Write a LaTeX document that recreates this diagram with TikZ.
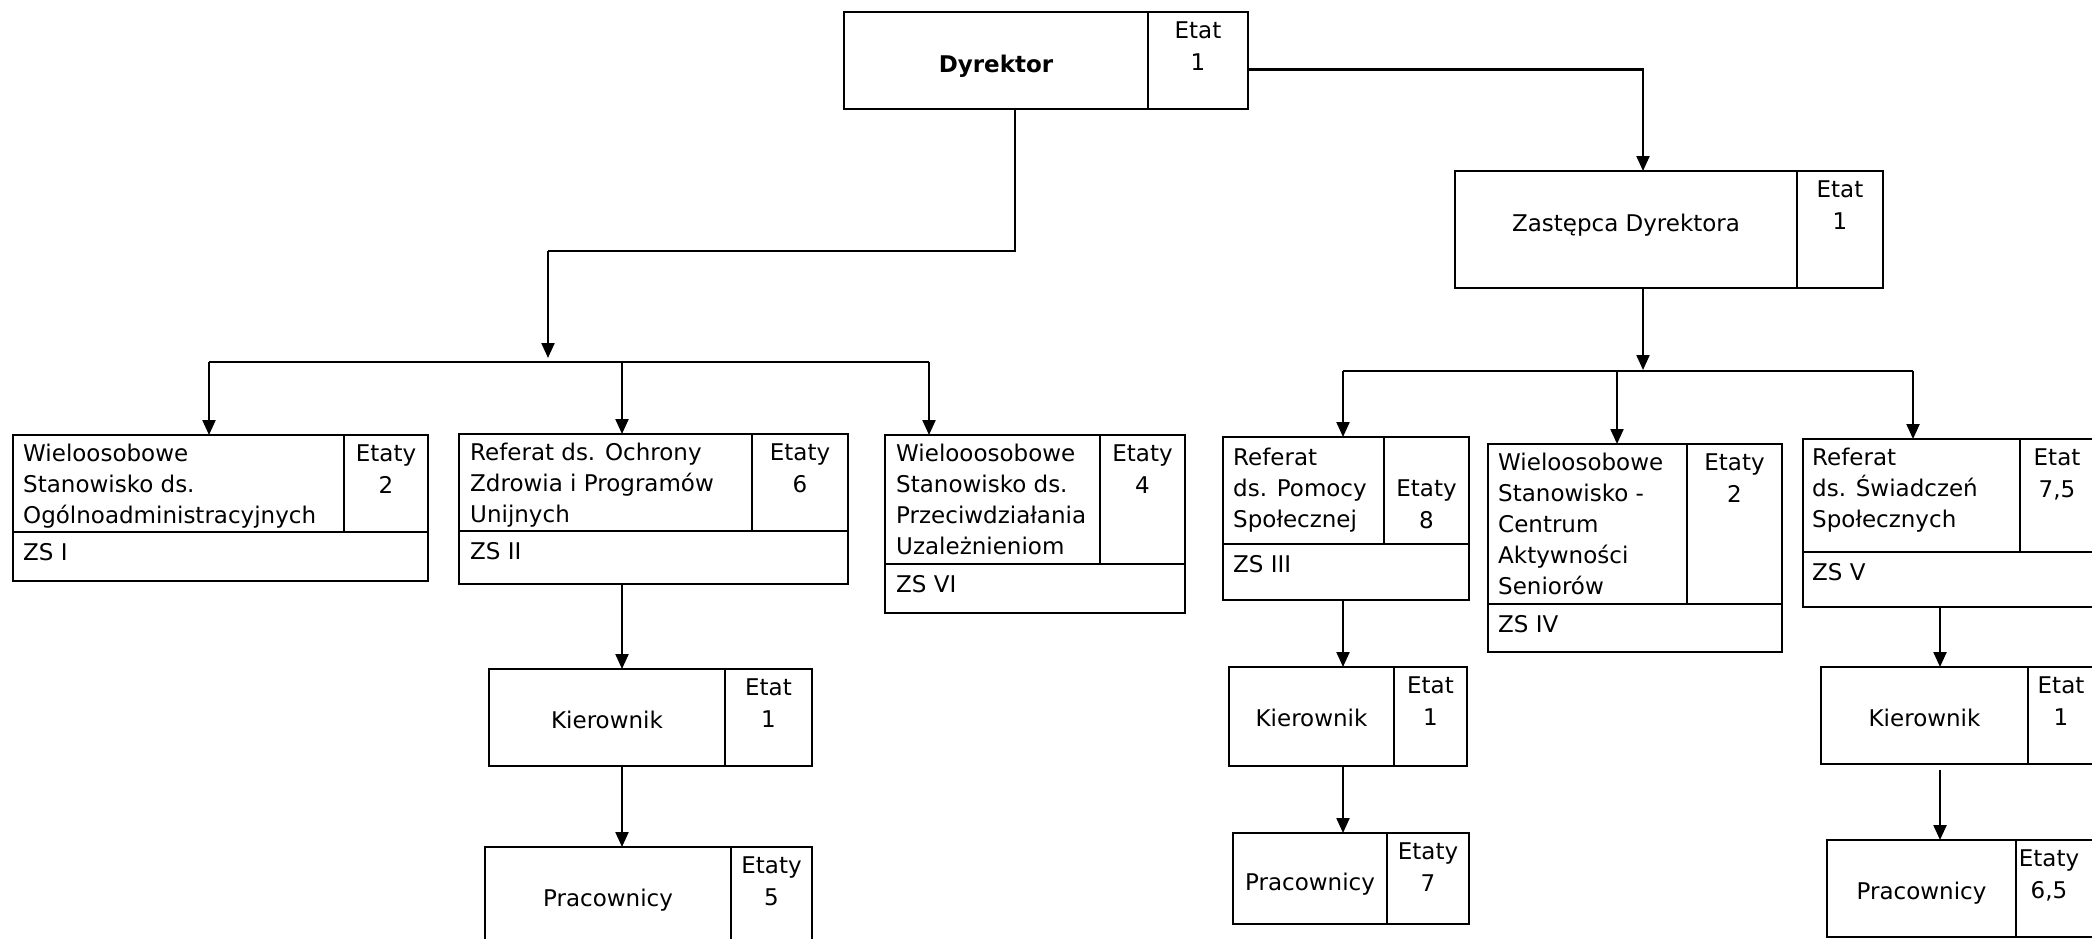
\documentclass[tikz,border=0pt]{standalone}
\usepackage{fontspec}
\setmainfont{DejaVu Sans}
\usepackage{tikz}
\usetikzlibrary{arrows.meta}

\begin{document}
\begin{tikzpicture}[x=1pt,y=-1pt,
  cell/.style={draw, line width=2.2pt, rectangle, inner sep=0pt, outer sep=0pt, anchor=north west},
  txt/.style={anchor=north west, align=left, inner sep=0pt, font=\fontsize{23}{31}\selectfont},
  etat/.style={anchor=north, align=center, inner sep=0pt, font=\fontsize{23}{32}\selectfont},
  nazwa/.style={anchor=base, inner sep=0pt, font=\fontsize{23}{31}\selectfont},
  conn/.style={line width=2.2pt},
  arr/.style={line width=2.2pt, -{Triangle[length=15pt,width=13pt]}}]

  \useasboundingbox (0,0) rectangle (2092,938);

  % Dyrektor
  \node[cell, minimum width=304pt, minimum height=97pt] (dyr) at (844,12) {};
  \node[cell, minimum width=100pt, minimum height=97pt] (dyrE) at (dyr.north east) {};
  \node[nazwa] (dyrT) at ([yshift=-60pt]dyr.north) {\bfseries Dyrektor};
  \node[etat] (dyrN) at ([yshift=-10pt]dyrE.north) {Etat\\1};

  \node[cell, minimum width=342pt, minimum height=117pt] (zast) at (1455,171) {};
  \node[cell, minimum width=86pt, minimum height=117pt] (zastE) at (zast.north east) {};
  \node[nazwa] (zastT) at ([yshift=-60pt]zast.north) {Zastępca Dyrektora};
  \node[etat] (zastN) at ([yshift=-10pt]zastE.north) {Etat\\1};

  % ZS I
  \node[cell, minimum width=331pt, minimum height=97pt] (zs1) at (13,435) {};
  \node[cell, minimum width=84pt, minimum height=97pt] (zs1E) at (zs1.north east) {};
  \node[cell, minimum width=415pt, minimum height=49pt] (zs1D) at (zs1.south west) {};
  \node[txt] (zs1T) at ([xshift=10pt,yshift=-9pt]zs1.north west) {Wieloosobowe\\Stanowisko ds.\\Ogólnoadministracyjnych};
  \node[etat] (zs1N) at ([yshift=-10pt]zs1E.north) {Etaty\\2};
  \node[txt] (zs1Z) at ([xshift=10pt,yshift=-11pt]zs1D.north west) {ZS I};

  % ZS II
  \node[cell, minimum width=293pt, minimum height=97pt] (zs2) at (459,434) {};
  \node[cell, minimum width=96pt, minimum height=97pt] (zs2E) at (zs2.north east) {};
  \node[cell, minimum width=389pt, minimum height=53pt] (zs2D) at (zs2.south west) {};
  \node[txt] (zs2T) at ([xshift=11pt,yshift=-9pt]zs2.north west) {Referat ds. Ochrony\\Zdrowia i Programów\\Unijnych};
  \node[etat] (zs2N) at ([yshift=-10pt]zs2E.north) {Etaty\\6};
  \node[txt] (zs2Z) at ([xshift=11pt,yshift=-11pt]zs2D.north west) {ZS II};

  % ZS VI
  \node[cell, minimum width=215pt, minimum height=129pt] (zs6) at (885,435) {};
  \node[cell, minimum width=85pt, minimum height=129pt] (zs6E) at (zs6.north east) {};
  \node[cell, minimum width=300pt, minimum height=49pt] (zs6D) at (zs6.south west) {};
  \node[txt] (zs6T) at ([xshift=11pt,yshift=-9pt]zs6.north west) {Wielooosobowe\\Stanowisko ds.\\Przeciwdziałania\\Uzależnieniom};
  \node[etat] (zs6N) at ([yshift=-10pt]zs6E.north) {Etaty\\4};
  \node[txt] (zs6Z) at ([xshift=11pt,yshift=-11pt]zs6D.north west) {ZS VI};

  % ZS III
  \node[cell, minimum width=161pt, minimum height=107pt] (zs3) at (1223,437) {};
  \node[cell, minimum width=85pt, minimum height=107pt] (zs3E) at (zs3.north east) {};
  \node[cell, minimum width=246pt, minimum height=56pt] (zs3D) at (zs3.south west) {};
  \node[txt] (zs3T) at ([xshift=10pt,yshift=-11pt]zs3.north west) {Referat\\ds. Pomocy\\Społecznej};
  \node[etat] (zs3N) at ([yshift=-43pt]zs3E.north) {Etaty\\8};
  \node[txt] (zs3Z) at ([xshift=10pt,yshift=-11pt]zs3D.north west) {ZS III};

  % ZS IV
  \node[cell, minimum width=199pt, minimum height=160pt] (zs4) at (1488,444) {};
  \node[cell, minimum width=95pt, minimum height=160pt] (zs4E) at (zs4.north east) {};
  \node[cell, minimum width=294pt, minimum height=48pt] (zs4D) at (zs4.south west) {};
  \node[txt] (zs4T) at ([xshift=10pt,yshift=-9pt]zs4.north west) {Wieloosobowe\\Stanowisko -\\Centrum\\Aktywności\\Seniorów};
  \node[etat] (zs4N) at ([yshift=-10pt]zs4E.north) {Etaty\\2};
  \node[txt] (zs4Z) at ([xshift=10pt,yshift=-11pt]zs4D.north west) {ZS IV};

  % ZS V
  \node[cell, minimum width=217pt, minimum height=113pt] (zs5) at (1803,439) {};
  \node[cell, minimum width=74pt, minimum height=113pt] (zs5E) at (zs5.north east) {};
  \node[cell, minimum width=291pt, minimum height=55pt] (zs5D) at (zs5.south west) {};
  \node[txt] (zs5T) at ([xshift=9pt,yshift=-9pt]zs5.north west) {Referat\\ds. Świadczeń\\Społecznych};
  \node[etat] (zs5N) at ([yshift=-10pt]zs5E.north) {Etat\\7,5};
  \node[txt] (zs5Z) at ([xshift=9pt,yshift=-11pt]zs5D.north west) {ZS V};

  % Kierownik, Pracownicy
  \node[cell, minimum width=236pt, minimum height=97pt] (k2) at (489,669) {};
  \node[cell, minimum width=87pt, minimum height=97pt] (k2E) at (k2.north east) {};
  \node[nazwa] (k2T) at ([yshift=-59pt]k2.north) {Kierownik};
  \node[etat] (k2N) at ([yshift=-10pt]k2E.north) {Etat\\1};

  \node[cell, minimum width=246pt, minimum height=97pt] (p2) at (485,847) {};
  \node[cell, minimum width=81pt, minimum height=97pt] (p2E) at (p2.north east) {};
  \node[nazwa] (p2T) at ([yshift=-59pt]p2.north) {Pracownicy};
  \node[etat] (p2N) at ([yshift=-10pt]p2E.north) {Etaty\\5};

  \node[cell, minimum width=165pt, minimum height=99pt] (k3) at (1229,667) {};
  \node[cell, minimum width=73pt, minimum height=99pt] (k3E) at (k3.north east) {};
  \node[nazwa] (k3T) at ([yshift=-59pt]k3.north) {Kierownik};
  \node[etat] (k3N) at ([yshift=-10pt]k3E.north) {Etat\\1};

  \node[cell, minimum width=154pt, minimum height=91pt] (p3) at (1233,833) {};
  \node[cell, minimum width=82pt, minimum height=91pt] (p3E) at (p3.north east) {};
  \node[nazwa] (p3T) at ([yshift=-57pt]p3.north) {Pracownicy};
  \node[etat] (p3N) at ([yshift=-10pt]p3E.north) {Etaty\\7};

  \node[cell, minimum width=207pt, minimum height=97pt] (k5) at (1821,667) {};
  \node[cell, minimum width=66pt, minimum height=97pt] (k5E) at (k5.north east) {};
  \node[nazwa] (k5T) at ([yshift=-59pt]k5.north) {Kierownik};
  \node[etat] (k5N) at ([yshift=-10pt]k5E.north) {Etat\\1};

  \node[cell, minimum width=189pt, minimum height=97pt] (p5) at (1827,840) {};
  \node[cell, minimum width=78pt, minimum height=97pt] (p5E) at (p5.north east) {};
  \node[nazwa] (p5T) at ([yshift=-59pt]p5.north) {Pracownicy};
  \node[etat] (p5N) at ([xshift=-6pt,yshift=-10pt]p5E.north) {Etaty\\6,5};

  % polaczenia
  \coordinate (e1) at (548,251);
  \coordinate (s1) at (548,358);
  \coordinate (a1) at (209,362);
  \coordinate (a2) at (622,362);
  \coordinate (a3) at (929,362);
  \draw[conn] ([xshift=19pt]dyr.south) |- (e1);
  \draw[arr] (e1) -- (s1);
  \draw[conn] (a1) -- (a3);
  \draw[arr] (a1) -- (a1 |- zs1.north);
  \draw[arr] (a2) -- (a2 |- zs2.north);
  \draw[arr] (a3) -- (a3 |- zs6.north);

  \draw[arr] ([yshift=-9pt]dyrE.east) -| ([xshift=17pt]zast.north);
  \coordinate (s2) at (1643,370);
  \coordinate (b1) at (1343,371);
  \coordinate (b2) at (1617,371);
  \coordinate (b3) at (1913,371);
  \draw[arr] ([xshift=17pt]zast.south) -- (s2);
  \draw[conn] (b1) -- (b3);
  \draw[arr] (b1) -- (b1 |- zs3.north);
  \draw[arr] (b2) -- (b2 |- zs4.north);
  \draw[arr] (b3) -- (b3 |- zs5.north);

  \draw[arr] (a2 |- zs2D.south) -- (a2 |- k2.north);
  \draw[arr] (a2 |- k2.south) -- (a2 |- p2.north);
  \draw[arr] (b1 |- zs3D.south) -- (b1 |- k3.north);
  \draw[arr] (b1 |- k3.south) -- (b1 |- p3.north);
  \coordinate (c5) at (1940,770);
  \draw[arr] (c5 |- zs5D.south) -- (c5 |- k5.north);
  \draw[arr] (c5) -- (c5 |- p5.north);

\end{tikzpicture}
\end{document}
